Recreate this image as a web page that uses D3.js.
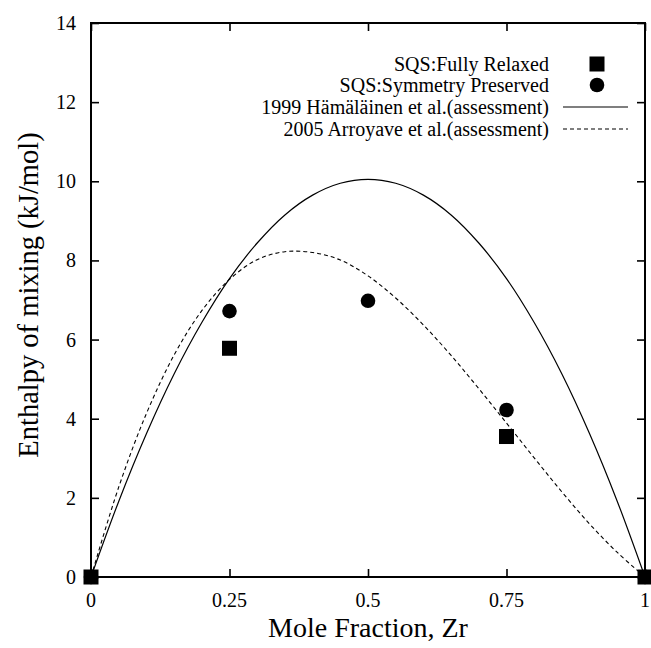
<!DOCTYPE html>
<html>
<head>
<meta charset="utf-8">
<script src="https://cdn.jsdelivr.net/npm/d3@7"></script>
<style>
  html, body { margin: 0; padding: 0; background: #fff; }
  svg { display: block; }
</style>
</head>
<body>
<svg id="chart" width="651" height="648"></svg>
<script>
// ---- data ----
const xTicks = [0, 0.25, 0.5, 0.75, 1];
const xTickLabels = ["0", "0.25", "0.5", "0.75", "1"];
const yTicks = [0, 2, 4, 6, 8, 10, 12, 14];

const relaxedX = [0, 0.25, 0.75, 1];
const relaxedY = [0, 5.78, 3.55, 0];

const preservedX = [0, 0.25, 0.5, 0.75, 1];
const preservedY = [0, 6.72, 6.98, 4.22, 0];

const curveX = [0, 0.05, 0.1, 0.15, 0.2, 0.25, 0.3, 0.35, 0.4, 0.45, 0.5,
                0.55, 0.6, 0.65, 0.7, 0.75, 0.8, 0.85, 0.9, 0.95, 1];
const hamalainenY = [0, 1.91, 3.62, 5.13, 6.43, 7.54, 8.44, 9.15, 9.65, 9.95, 10.05,
                     9.95, 9.65, 9.15, 8.44, 7.54, 6.43, 5.13, 3.62, 1.91, 0];
const arroyaveY = [0, 2.27, 4.13, 5.61, 6.73, 7.52, 8.02, 8.22, 8.20, 8.01, 7.61,
                   7.05, 6.37, 5.60, 4.76, 3.89, 3.01, 2.15, 1.34, 0.62, 0];

const legendLabels = ["SQS:Fully Relaxed", "SQS:Symmetry Preserved",
                      "1999 Hämäläinen et al.(assessment)", "2005 Arroyave et al.(assessment)"];
const xTitle = "Mole Fraction, Zr";
const yTitle = "Enthalpy of mixing (kJ/mol)";

// ---- layout ----
const FONT = "'Liberation Serif', 'Times New Roman', Tinos, 'DejaVu Serif', serif";
const L = 91, R = 645, T = 23, B = 577;
const svg = d3.select("#chart").attr("font-family", FONT);
const x = d3.scaleLinear().domain([0, 1]).range([L, R]);
const y = d3.scaleLinear().domain([0, 14]).range([B, T]);

svg.append("defs").append("clipPath").attr("id", "clip")
  .append("rect").attr("x", L).attr("y", T).attr("width", R - L).attr("height", B - T);

// ticks (inward, mirrored on all sides)
const tickLen = 8;
const axB = d3.axisTop(x).tickValues(xTicks).tickSize(tickLen).tickFormat("");
const axT = d3.axisBottom(x).tickValues(xTicks).tickSize(tickLen).tickFormat("");
const axL = d3.axisRight(y).tickValues(yTicks).tickSize(tickLen).tickFormat("");
const axR = d3.axisLeft(y).tickValues(yTicks).tickSize(tickLen).tickFormat("");
[[axB, `translate(0,${B})`], [axT, `translate(0,${T})`], [axL, `translate(${L},0)`], [axR, `translate(${R},0)`]]
  .forEach(([ax, tr]) => {
    const g = svg.append("g").attr("transform", tr).call(ax);
    g.select(".domain").remove();
    g.selectAll(".tick line").attr("stroke", "#000").attr("stroke-width", 1.6);
  });

// tick labels
svg.append("g").selectAll("text").data(xTicks).join("text")
  .attr("font-family", FONT)
  .attr("x", d => x(d)).attr("y", 607)
  .attr("text-anchor", "middle").attr("font-size", 20)
  .text((d, i) => xTickLabels[i]);
svg.append("g").selectAll("text").data(yTicks).join("text")
  .attr("font-family", FONT)
  .attr("x", L - 15).attr("y", d => y(d)).attr("dy", "0.35em")
  .attr("text-anchor", "end").attr("font-size", 20)
  .text(d => d);

// frame
svg.append("rect").attr("x", L).attr("y", T).attr("width", R - L).attr("height", B - T)
  .attr("fill", "none").attr("stroke", "#000").attr("stroke-width", 2);

// axis titles
svg.append("text").attr("font-family", FONT).attr("x", (L + R) / 2).attr("y", 637)
  .attr("text-anchor", "middle").attr("font-size", 28).text(xTitle);
svg.append("text").attr("font-family", FONT)
  .attr("transform", `translate(38,295) rotate(-90)`)
  .attr("text-anchor", "middle").attr("font-size", 28.5).text(yTitle);

// curves
const line = d3.line().x(d => x(d[0])).y(d => y(d[1])).curve(d3.curveCatmullRom);
const gc = svg.append("g").attr("clip-path", "url(#clip)");
gc.append("path").datum(curveX.map((v, i) => [v, hamalainenY[i]]))
  .attr("d", line).attr("fill", "none").attr("stroke", "#000").attr("stroke-width", 1.2);
gc.append("path").datum(curveX.map((v, i) => [v, arroyaveY[i]]))
  .attr("d", line).attr("fill", "none").attr("stroke", "#000").attr("stroke-width", 1.1)
  .attr("stroke-dasharray", "4,3");

// points
const sq = 15, cr = 7.3;
svg.append("g").selectAll("circle").data(preservedX.map((v, i) => [v, preservedY[i]])).join("circle")
  .attr("cx", d => x(d[0])).attr("cy", d => y(d[1])).attr("r", cr).attr("fill", "#000");
svg.append("g").selectAll("rect").data(relaxedX.map((v, i) => [v, relaxedY[i]])).join("rect")
  .attr("x", d => x(d[0]) - sq / 2).attr("y", d => y(d[1]) - sq / 2)
  .attr("width", sq).attr("height", sq).attr("fill", "#000");

// legend
const legY = [64, 85, 107, 129];
const legTextX = 549, legSymX = 597, legL0 = 563, legL1 = 628;
const lg = svg.append("g");
lg.selectAll("text").data(legendLabels).join("text")
  .attr("font-family", FONT)
  .attr("x", legTextX).attr("y", (d, i) => legY[i]).attr("dy", "0.35em")
  .attr("text-anchor", "end").attr("font-size", 20).text(d => d);
lg.append("rect").attr("x", legSymX - sq / 2).attr("y", legY[0] - sq / 2)
  .attr("width", sq).attr("height", sq).attr("fill", "#000");
lg.append("circle").attr("cx", legSymX).attr("cy", legY[1]).attr("r", cr).attr("fill", "#000");
lg.append("line").attr("x1", legL0).attr("x2", legL1).attr("y1", legY[2]).attr("y2", legY[2])
  .attr("stroke", "#000").attr("stroke-width", 1.2);
lg.append("line").attr("x1", legL0).attr("x2", legL1).attr("y1", legY[3]).attr("y2", legY[3])
  .attr("stroke", "#000").attr("stroke-width", 1.1).attr("stroke-dasharray", "4,3");
</script>
</body>
</html>
